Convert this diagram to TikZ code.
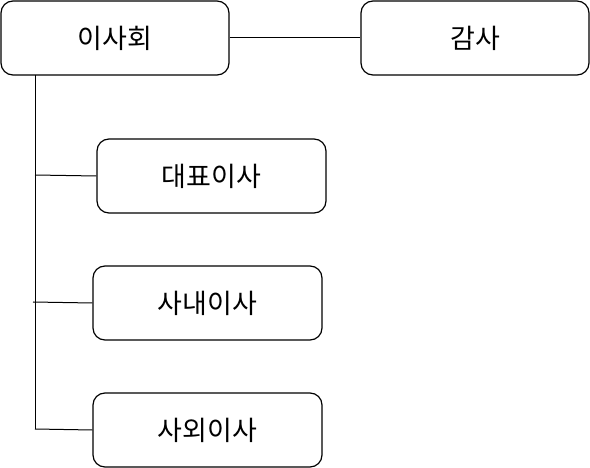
\documentclass[tikz,border=0pt]{standalone}
\usepackage{fontspec}
\newfontfamily\kr{Noto Sans CJK KR}
\begin{document}
\begin{tikzpicture}[x=1pt,y=-1pt,
  box/.style={draw=black,line width=1.2pt,rounded corners=12pt,fill=white,
    minimum width=228pt,minimum height=74pt,inner sep=0pt,
    font=\kr\fontsize{27}{30}\selectfont},
  conn/.style={draw=black,line width=1pt}]
\useasboundingbox[fill=white] (0,0) rectangle (590,468);
\node[box] (isa) at (115,38) {이사회};
\node[box] (gam) at (475,38) {감사};
\node[box,minimum width=229pt] (dae) at (211.5,176) {대표이사};
\node[box,minimum width=229pt] (sanae) at (207.5,303) {사내이사};
\node[box,minimum width=229pt] (saoe) at (207.5,430) {사외이사};
\coordinate (top) at (35,75);
\coordinate (j1) at (35,175);
\coordinate (j2) at (33,302);
\coordinate (j3) at (35,429);
\draw[conn] (isa.east) -- (gam.west);
\draw[conn] (top) -- (j3);
\draw[conn] (j1) -- (dae.west);
\draw[conn] (j2) -- (sanae.west);
\draw[conn] (j3) -- (saoe.west);
\end{tikzpicture}
\end{document}
